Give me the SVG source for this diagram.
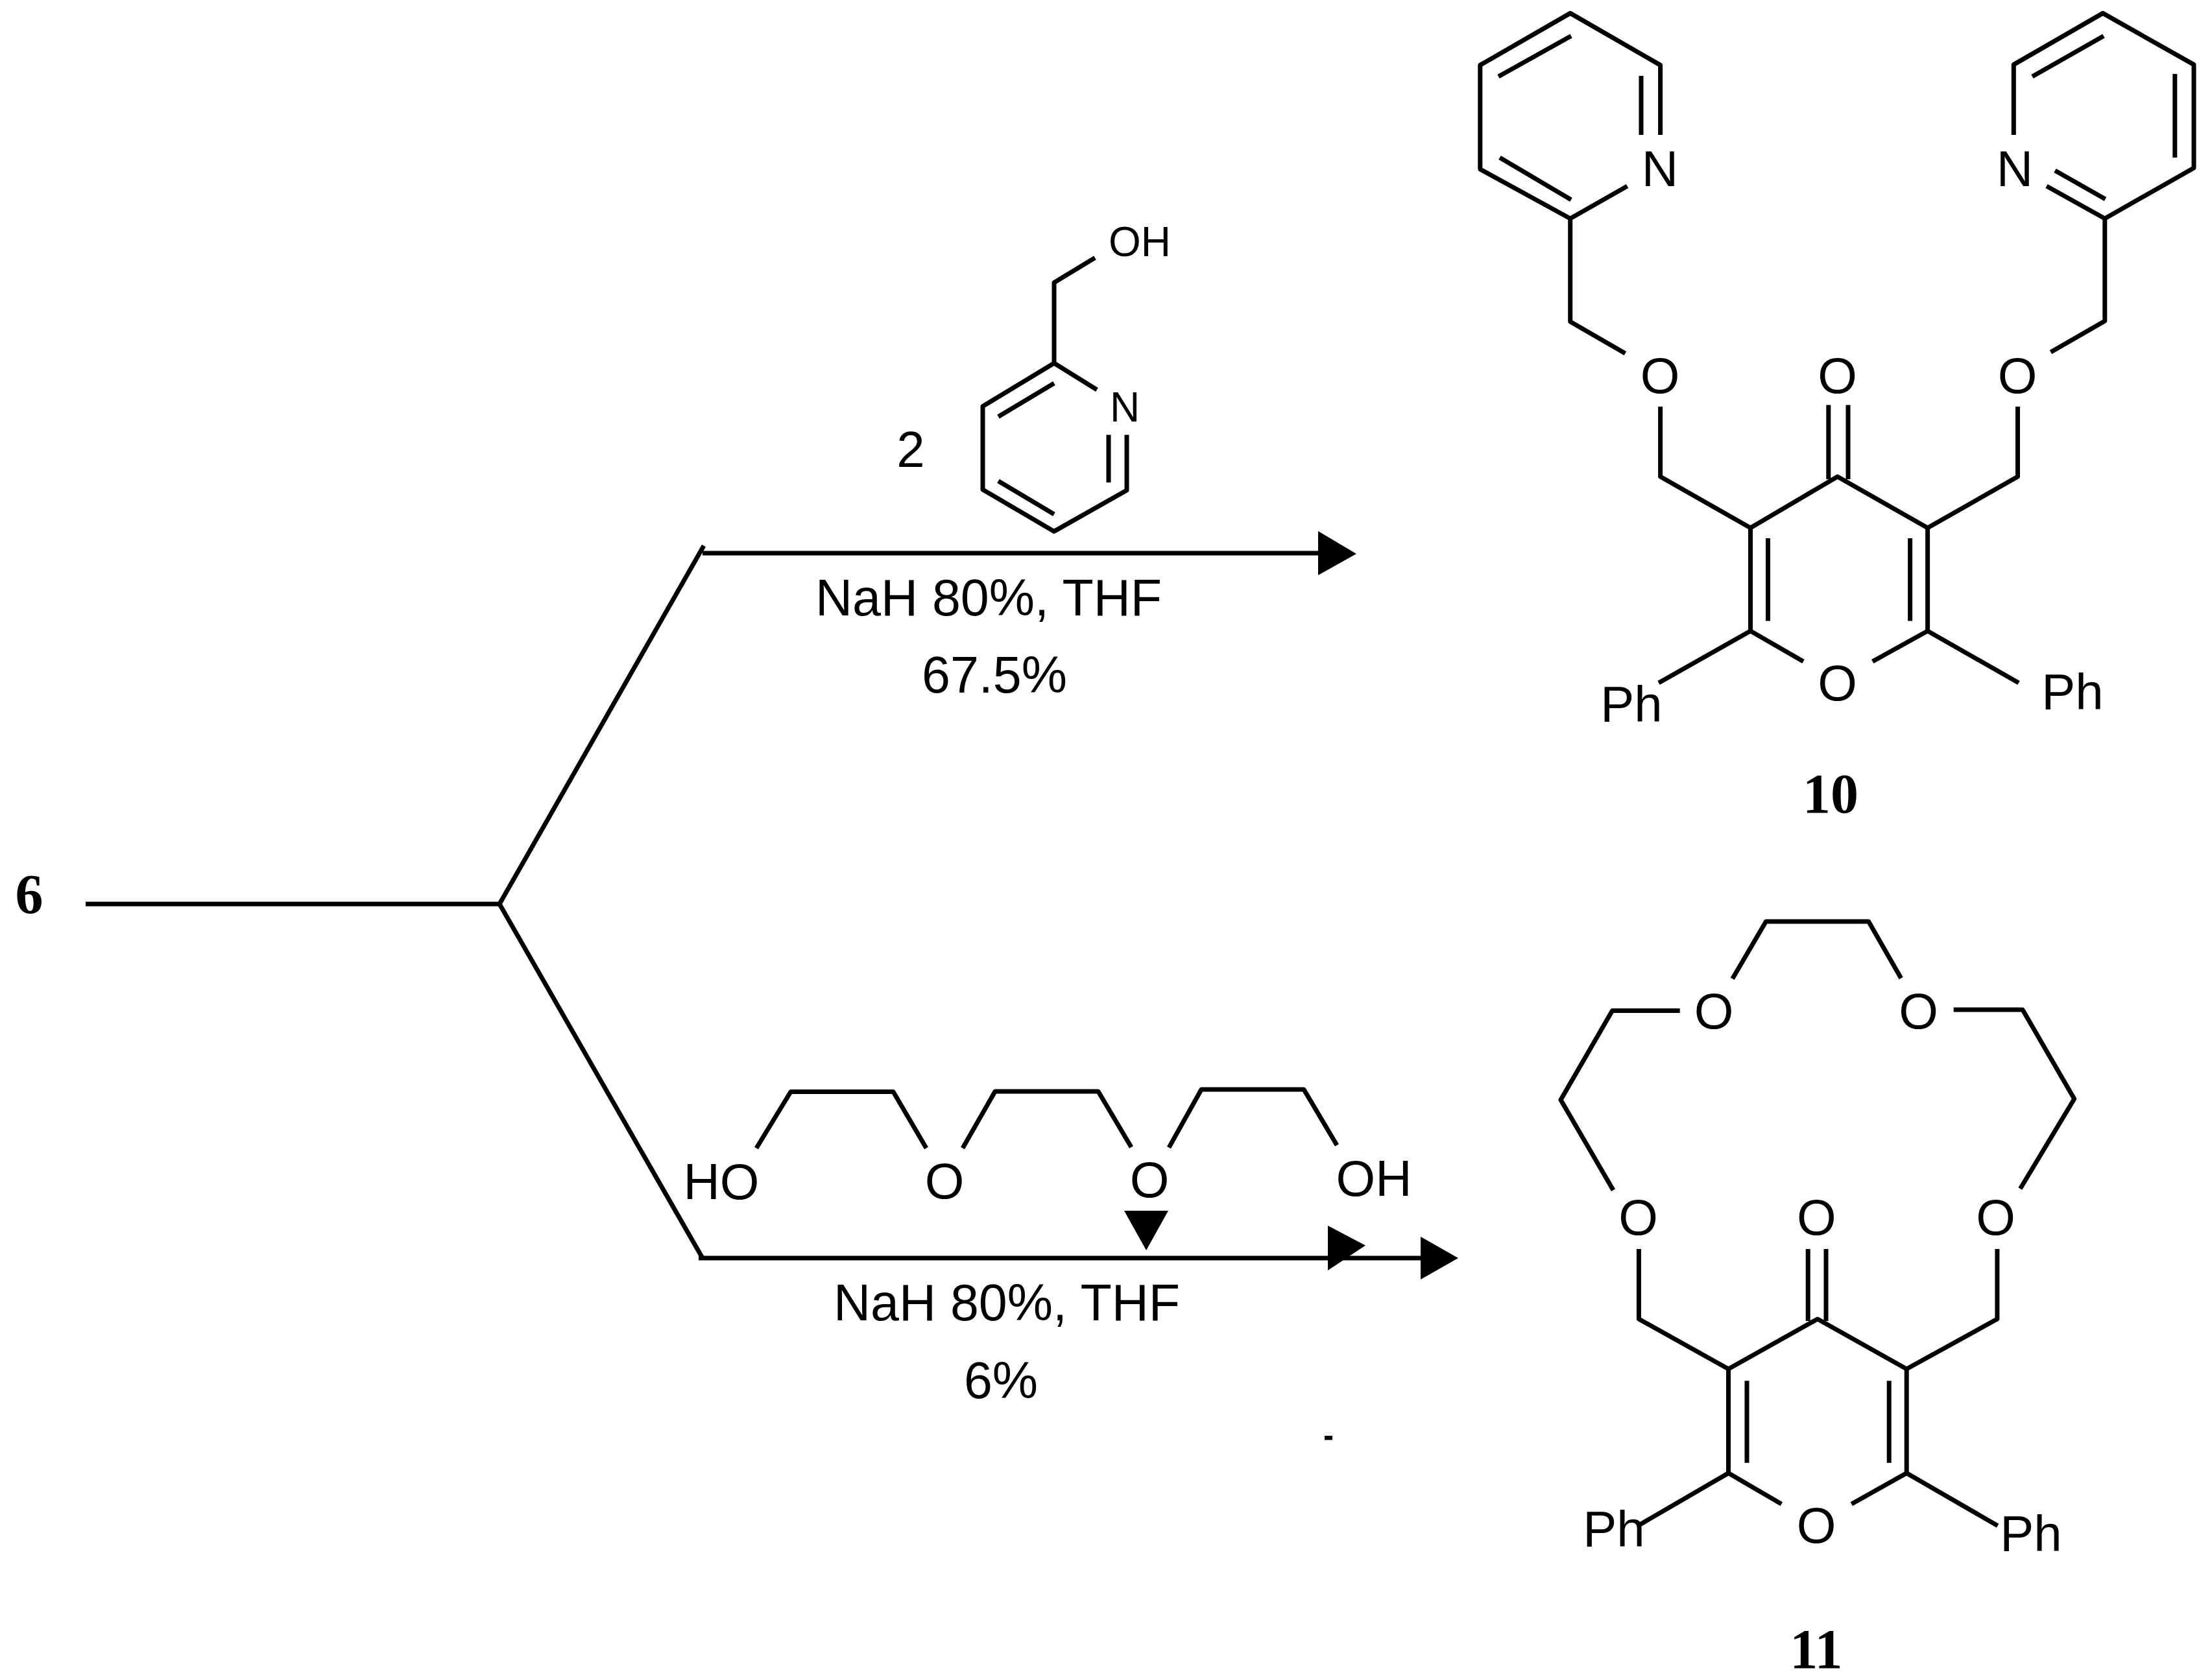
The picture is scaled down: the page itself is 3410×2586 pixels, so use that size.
<svg xmlns="http://www.w3.org/2000/svg" width="3410" height="2586" viewBox="0 0 3410 2586">
<style>
.b{fill:none;stroke:#000;stroke-width:7;stroke-linejoin:round;stroke-linecap:butt}
.t{font-family:"Liberation Sans",Arial,sans-serif;font-size:78px;fill:#000;text-anchor:middle}
.r{font-size:79px}
.s{font-size:64px}
.n{font-family:"Liberation Serif","Times New Roman",serif;font-size:86px;font-weight:bold;fill:#000;text-anchor:middle}
.h{fill:#000;stroke:none}
</style>
<rect width="3410" height="2586" fill="#fff"/>
<g id="connectors">
<path class="b" d="M132 1394H770L1085 841.500"/>
<path class="b" d="M1083 853H2034"/>
<path class="h" d="M2032 819L2091 854L2032 887Z"/>
<path class="b" d="M770 1394L1083 1940"/>
<path class="b" d="M1077 1940H2192"/>
<path class="h" d="M2047 1890L2105 1920.500L2047 1959Z"/>
<path class="h" d="M2190 1907L2248 1940L2190 1973Z"/>
<path class="h" d="M1733 1867H1801L1767 1928Z"/>
</g>
<g id="compound-6"><text class="n" x="45" y="1408">6</text></g>
<g id="reagent-pyridylmethanol">
<text class="t" x="1404" y="720">2</text>
<path class="b" d="M1688 397.600L1625 435.700V560L1691 601M1625 560L1515 626.500V755L1625 819.400L1737 756V670.500"/>
<path class="b" d="M1709 670.500V744M1539 642.600L1625 591M1539 741.700L1625 793"/>
<text class="t s" x="1757" y="395">OH</text>
<text class="t s" x="1734" y="650">N</text>
</g>
<g id="label-conditions-10">
<text class="t r" x="1524" y="949">NaH 80%, THF</text>
<text class="t r" x="1533" y="1068">67.5%</text>
</g>
<g id="compound-10">
<path class="b" d="M2559.600 208V100.400L2420.700 20.400L2281.800 100.400V261L2420.700 337L2508.600 287M2420.700 337V496L2505.500 545M2559.600 627V735L2698.500 814L2832.700 735L2971.600 814V973L2886.700 1020M2780 1020L2698.500 973V814M2971.600 814L3110.500 735V627M3161.400 543L3244.800 495V337L3382 259V99.600L3241.700 20.400L3104.300 99.600V208M3155 287L3244.800 337M2698.500 973L2557 1053M2971.600 973L3112 1053"/>
<path class="b" d="M2530 117V208M2310 118L2422 55.500M2312 243L2422 308M2725.500 830V957.600M2944.600 830V957.600M2818.800 624.500V739M2849 624.500V739M3243 55.500L3133 118M3352.800 114V243M3168 263L3245.500 307"/>
<text class="t" x="2559" y="287">N</text>
<text class="t" x="3106" y="287">N</text>
<text class="t" x="2559" y="606">O</text>
<text class="t" x="2832.700" y="606">O</text>
<text class="t" x="3110" y="606">O</text>
<text class="t" x="2832.700" y="1080">O</text>
<text class="t" x="2515" y="1113">Ph</text>
<text class="t" x="3195" y="1094">Ph</text>
<text class="n" x="2822" y="1253">10</text>
</g>
<g id="reagent-glycol">
<path class="b" d="M1166 1770.500L1219 1683.500H1377L1428 1770.500M1484 1770.500L1534 1683H1693L1744 1769M1802 1769.600L1852 1680H2010L2061 1766"/>
<text class="t" x="1112" y="1849">HO</text>
<text class="t" x="1456" y="1848">O</text>
<text class="t" x="1772" y="1846">O</text>
<text class="t" x="2118" y="1844">OH</text>
</g>
<g id="label-conditions-11">
<text class="t r" x="1552" y="2036">NaH 80%, THF</text>
<text class="t r" x="1543" y="2156">6%</text>
<rect class="h" x="2042" y="2214" width="12" height="6.500"/>
</g>
<g id="compound-11">
<path class="b" d="M2670.700 1509.300L2722.400 1421H2880.600L2930.700 1508.500M2589.700 1558.600H2485.500L2406 1696L2487 1835.200M3011.700 1557H3118L3197.700 1694.500L3114.400 1833M2526.400 1925.900V2034L2664.500 2111L2801.900 2034L2939.200 2111V2271.600L2854.300 2319.300M2746.300 2319.300L2664.500 2271.600V2111M2939.200 2111L3078.900 2034V1925.900M2664.500 2271.600L2528 2351M2939.200 2271.600L3079.600 2352.700"/>
<path class="b" d="M2693 2129.300V2255.700M2912.200 2129.300V2255.700M2787.200 1925.900V2037M2815 1925.900V2037"/>
<text class="t" x="2642" y="1586">O</text>
<text class="t" x="2957.700" y="1586">O</text>
<text class="t" x="2525.600" y="1904">O</text>
<text class="t" x="2800.300" y="1904">O</text>
<text class="t" x="3076.500" y="1904">O</text>
<text class="t" x="2800" y="2379">O</text>
<text class="t" x="2488" y="2385">Ph</text>
<text class="t" x="3131" y="2392">Ph</text>
<text class="n" x="2800" y="2572">11</text>
</g>
</svg>
